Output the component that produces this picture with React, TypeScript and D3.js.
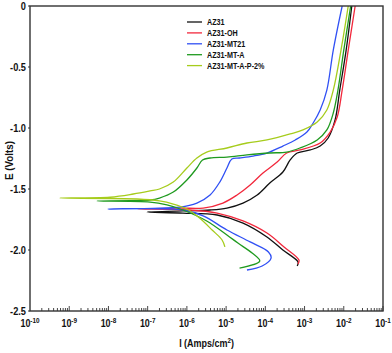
import React, { useEffect, useRef } from 'react';
import * as d3 from 'd3';

// [current density (A/cm2), potential (V)] in scan order: cathodic end -> Ecorr -> anodic
const az31: [number, number][] = [
  [6.5e-4, -2.131], [6.8e-4, -2.098], [2.8e-4, -2.0], [1.1e-4, -1.893], [2.7e-5, -1.779],
  [5.9e-6, -1.713], [7.9e-7, -1.697], [9.5e-8, -1.689], [7.9e-7, -1.68], [3.9e-6, -1.672],
  [1.05e-5, -1.656], [2.7e-5, -1.615], [6.2e-5, -1.549], [1.3e-4, -1.451], [2.8e-4, -1.361],
  [4.3e-4, -1.262], [6.5e-4, -1.205], [1.4e-3, -1.18], [2.5e-3, -1.148], [4.0e-3, -1.082],
  [6.0e-3, -0.934], [7.9e-3, -0.689], [1.15e-2, -0.361], [1.6e-2, 0],
];

const az31Oh: [number, number][] = [
  [6.8e-4, -2.115], [7.2e-4, -2.082], [3.0e-4, -1.975], [1.1e-4, -1.861], [2.7e-5, -1.762],
  [5.9e-6, -1.697], [1.2e-6, -1.672], [5.6e-8, -1.664], [6.6e-7, -1.656], [2.6e-6, -1.656],
  [8.3e-6, -1.615], [1.9e-5, -1.549], [4.1e-5, -1.467], [8.7e-5, -1.369], [2.0e-4, -1.279],
  [3.5e-4, -1.205], [7.6e-4, -1.18], [2.5e-3, -1.123], [4.5e-3, -1.033], [6.8e-3, -0.91],
  [9.1e-3, -0.689], [1.3e-2, -0.361], [1.95e-2, 0],
];

const az31Mt21: [number, number][] = [
  [3.4e-5, -2.164], [8.3e-5, -2.131], [1.4e-4, -2.066], [1.2e-4, -2.016], [4.1e-5, -1.934],
  [1.05e-5, -1.836], [2.6e-6, -1.721], [7.9e-7, -1.672], [9.8e-9, -1.664], [6.6e-7, -1.648],
  [1.8e-6, -1.615], [3.9e-6, -1.549], [6.9e-6, -1.443], [1.05e-5, -1.328], [1.4e-5, -1.254],
  [2.2e-5, -1.246], [4.9e-5, -1.23], [1.1e-4, -1.205], [2.8e-4, -1.148], [5.8e-4, -1.098],
  [1.15e-3, -1.033], [1.66e-3, -0.959], [2.5e-3, -0.852], [3.7e-3, -0.689], [5.4e-3, -0.361],
  [9.1e-3, 0],
];

const az31MtA: [number, number][] = [
  [2.2e-5, -2.148], [7.2e-5, -2.09], [4.6e-5, -2.025], [2.0e-5, -1.943], [1.05e-5, -1.877],
  [3.2e-6, -1.762], [7.9e-7, -1.672], [3.1e-7, -1.631], [1.15e-7, -1.607], [5.1e-9, -1.598],
  [1.15e-7, -1.59], [2.0e-7, -1.574], [4.5e-7, -1.525], [1.0e-6, -1.426], [1.8e-6, -1.328],
  [2.5e-6, -1.262], [3.9e-6, -1.246], [1.05e-5, -1.238], [3.4e-5, -1.221], [1.3e-4, -1.205],
  [3.5e-4, -1.197], [7.6e-4, -1.164], [2.1e-3, -1.098], [3.7e-3, -1.016], [5.4e-3, -0.877],
  [7.1e-3, -0.689], [1.0e-2, -0.361], [1.5e-2, 0],
];

const az31MtAP2: [number, number][] = [
  [9.3e-6, -1.975], [7.9e-6, -1.918], [4.4e-6, -1.836], [2.1e-6, -1.738], [1.0e-6, -1.664],
  [4.5e-7, -1.623], [2.0e-7, -1.598], [5.4e-8, -1.582], [5.8e-10, -1.574], [1.1e-8, -1.566],
  [4.3e-8, -1.541], [1.15e-7, -1.516], [2.0e-7, -1.5], [4.5e-7, -1.443], [1.0e-6, -1.328],
  [1.8e-6, -1.246], [3.2e-6, -1.197], [1.05e-5, -1.164], [3.4e-5, -1.123], [1.1e-4, -1.098],
  [4.3e-4, -1.049], [9.1e-4, -1.016], [2.1e-3, -0.951], [3.7e-3, -0.852], [5.4e-3, -0.689],
  [8.5e-3, -0.361], [1.3e-2, 0],
];

const seriesNames = ['AZ31', 'AZ31-OH', 'AZ31-MT21', 'AZ31-MT-A', 'AZ31-MT-A-P-2%'];
const seriesColors = ['#111111', '#f2283c', '#3050f4', '#1f9a1f', '#a6cc1c'];
const seriesData = [az31, az31Oh, az31Mt21, az31MtA, az31MtAP2];

const yTicks = [0, -0.5, -1.0, -1.5, -2.0, -2.5];
const xTickExponents = [-10, -9, -8, -7, -6, -5, -4, -3, -2, -1];

const width = 392;
const height = 353;
const font = '"Liberation Sans", Arial, sans-serif';

// bold text squeezed horizontally, the original uses a narrow face
const addText = (parent: any, x: number, y: number, size: number, anchor: string, sx: number, rotate = 0) => {
  const g = parent.append('g')
    .attr('transform', `translate(${x},${y}) rotate(${rotate}) scale(${sx},1)`);
  return g.append('text')
    .attr('text-anchor', anchor)
    .attr('font-family', font)
    .attr('font-weight', 'bold')
    .attr('font-size', size)
    .attr('fill', '#111');
};

const App = () => {
  const ref = useRef<SVGSVGElement>(null);

  useEffect(() => {
    const margin = { top: 6, right: 9, bottom: 42, left: 30 };
    const svg = d3.select(ref.current);
    svg.selectAll('*').remove();

    const x = d3.scaleLog().domain([1e-10, 1e-1]).range([margin.left, width - margin.right]);
    const y = d3.scaleLinear().domain([-2.5, 0]).range([height - margin.bottom, margin.top]);
    const [x0, x1] = x.range();
    const [y0, y1] = y.range();

    svg.append('defs').append('clipPath').attr('id', 'plot-clip')
      .append('rect').attr('x', x0).attr('y', y1).attr('width', x1 - x0).attr('height', y0 - y1);

    // curves
    const line = d3.line<[number, number]>()
      .x((d) => x(d[0]))
      .y((d) => y(d[1]))
      .curve(d3.curveCatmullRom.alpha(0.5));

    const curves = svg.append('g').attr('clip-path', 'url(#plot-clip)');
    seriesData.forEach((s, i) => {
      curves.append('path')
        .datum(s)
        .attr('fill', 'none')
        .attr('stroke', seriesColors[i])
        .attr('stroke-width', 1.3)
        .attr('d', line);
    });

    // frame
    svg.append('rect')
      .attr('x', x0).attr('y', y1).attr('width', x1 - x0).attr('height', y0 - y1)
      .attr('fill', 'none').attr('stroke', '#333').attr('stroke-width', 1.4);

    // bottom minor ticks, inside
    const ticks: { v: number; major: boolean }[] = [];
    for (let e = -10; e < -1; e++) {
      for (let m = 2; m <= 10; m++) ticks.push({ v: m * Math.pow(10, e), major: m === 10 });
    }
    svg.append('g').selectAll('line').data(ticks).join('line')
      .attr('x1', (d) => x(d.v)).attr('x2', (d) => x(d.v))
      .attr('y1', y0).attr('y2', (d) => y0 - (d.major ? 5 : 3))
      .attr('stroke', '#333').attr('stroke-width', 0.9);

    // x tick labels
    xTickExponents.forEach((e) => {
      const t = addText(svg, x(Math.pow(10, e)), y0 + 16, 10.5, 'middle', 0.85).text('10');
      t.append('tspan').attr('dy', -4).attr('font-size', 7.5).text(String(e));
    });

    // y ticks + labels
    yTicks.forEach((v) => {
      svg.append('line')
        .attr('x1', x0 - 2).attr('x2', x0)
        .attr('y1', y(v)).attr('y2', y(v))
        .attr('stroke', '#333');
      addText(svg, x0 - 4, y(v), 10.5, 'end', 0.88)
        .attr('dy', '0.35em')
        .text(v === 0 ? '0' : v.toFixed(1));
    });

    // axis titles
    const xt = addText(svg, (x0 + x1) / 2, height - 6, 11.5, 'middle', 0.78).text('I (Amps/cm');
    xt.append('tspan').attr('dy', -4).attr('font-size', 8).text('2');
    xt.append('tspan').attr('dy', 4).text(')');

    addText(svg, 13, (y0 + y1) / 2 + 2, 11.5, 'middle', 0.85, -90).text('E (Volts)');

    // legend
    const lg = svg.append('g').attr('transform', 'translate(187,22)');
    seriesNames.forEach((name, i) => {
      const row = lg.append('g').attr('transform', `translate(0,${i * 10.9})`);
      row.append('line').attr('x1', 0).attr('x2', 15).attr('y1', 0).attr('y2', 0)
        .attr('stroke', seriesColors[i]).attr('stroke-width', 1.3);
      addText(row, 20, 0, 9, 'start', 0.8).attr('dy', '0.35em').text(name);
    });
  }, []);

  return (
    <svg
      ref={ref}
      width={width}
      height={height}
      style={{ position: 'absolute', left: 0, top: 0, background: '#fff' }}
    />
  );
};

export default App;
